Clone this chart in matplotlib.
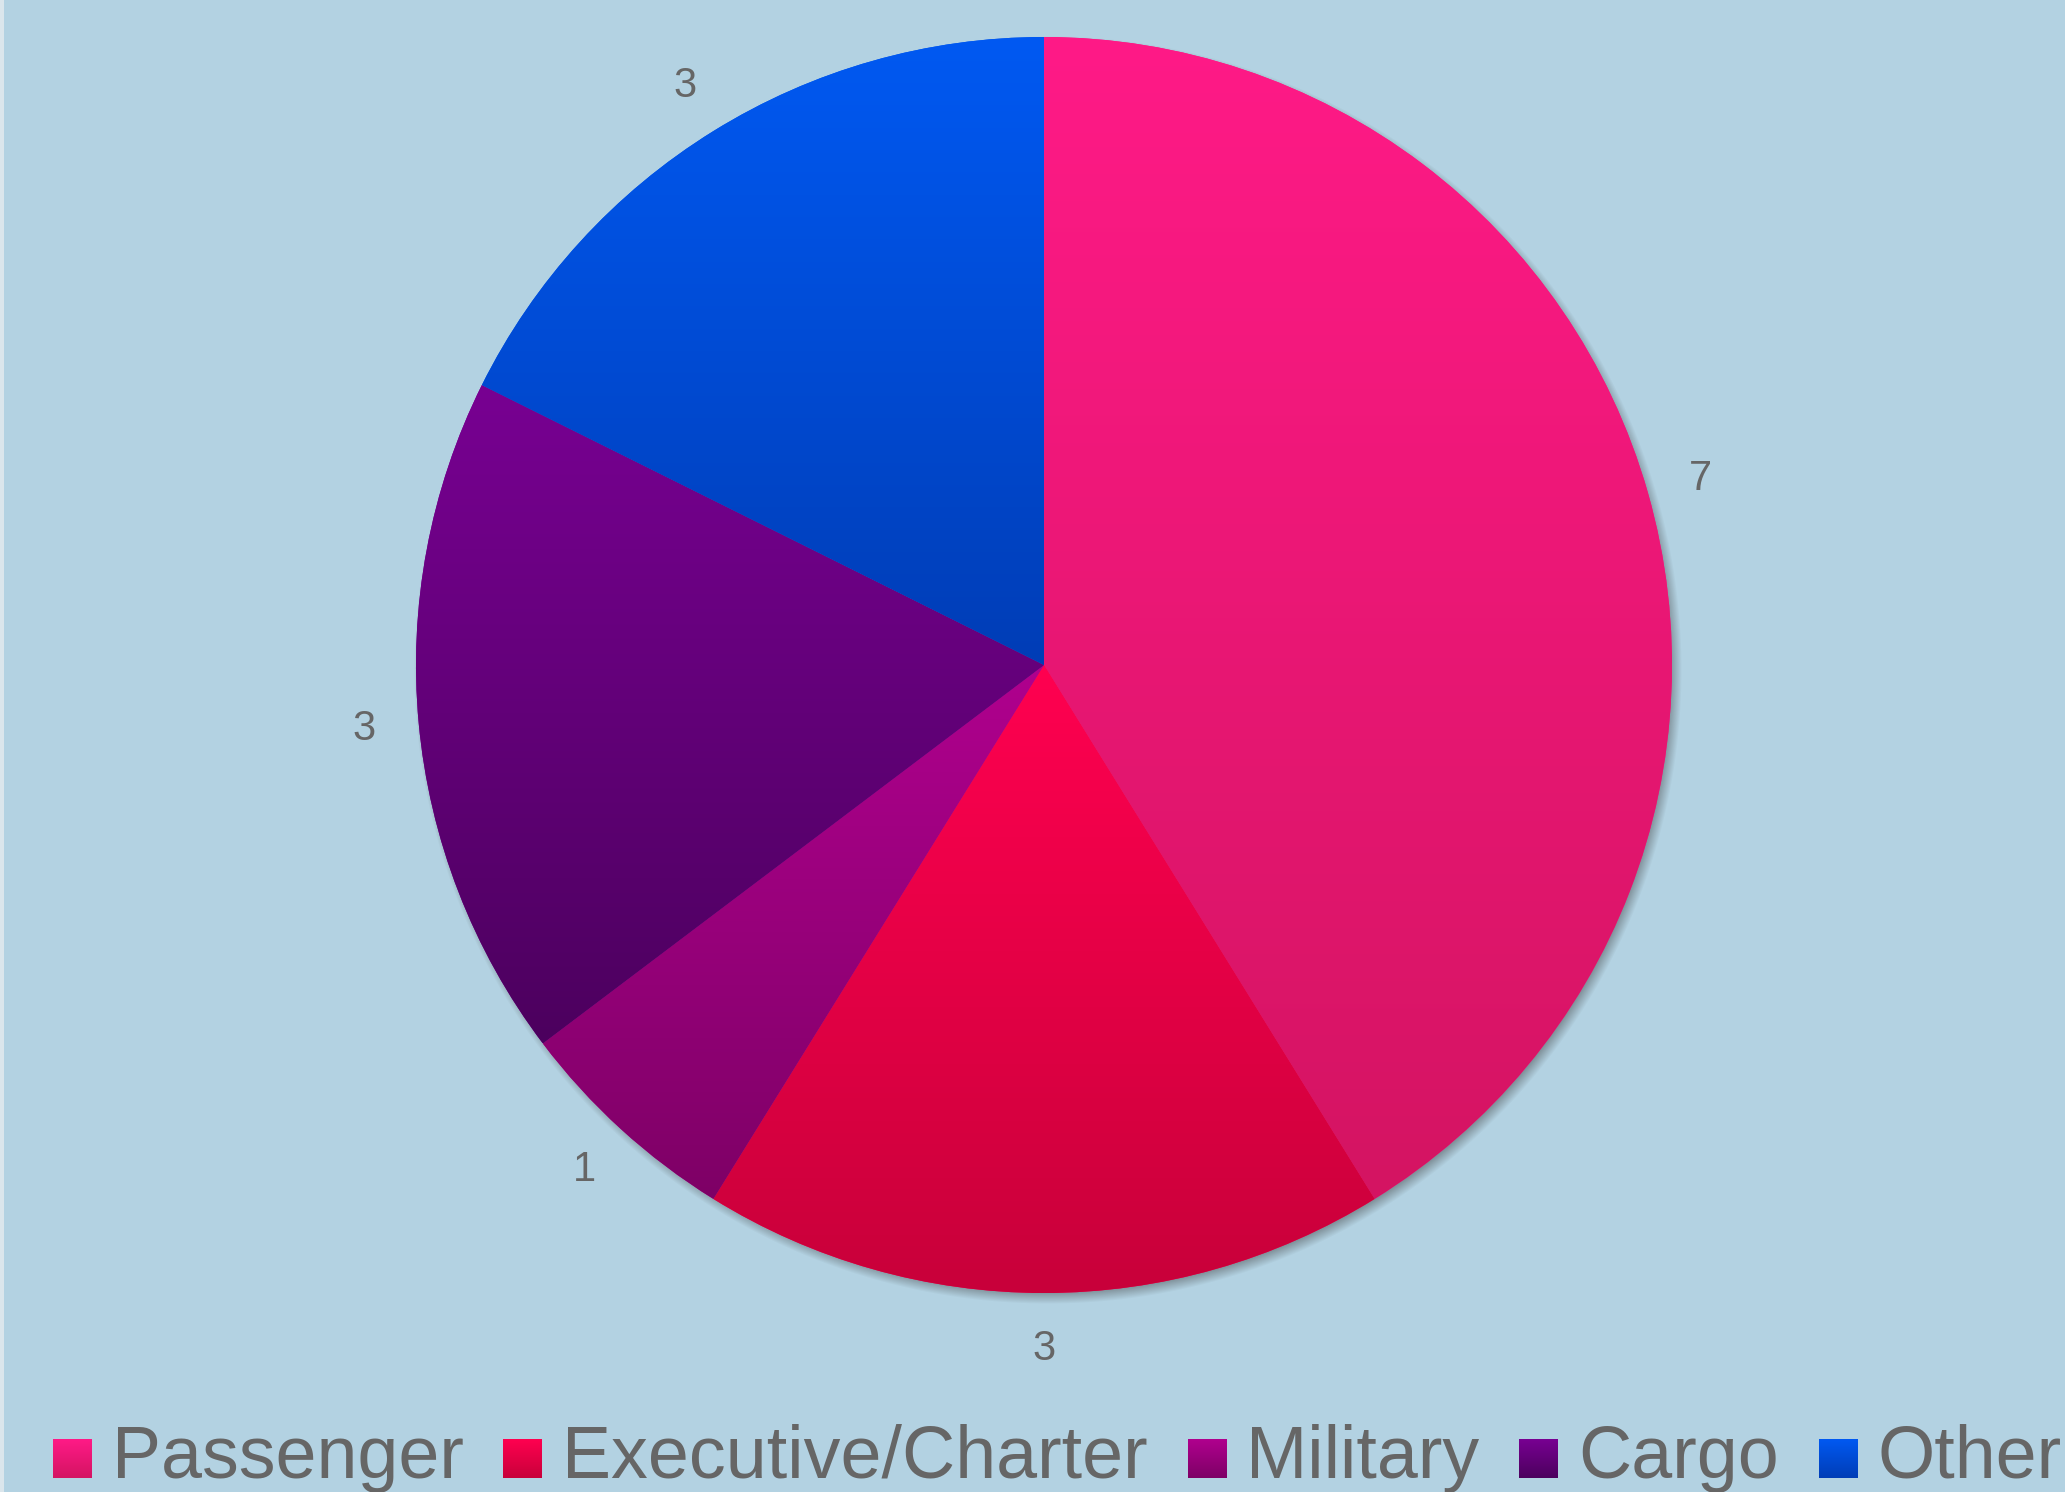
import numpy as np
import matplotlib
matplotlib.use("Agg")
import matplotlib.pyplot as plt
from matplotlib.colors import to_rgb
from matplotlib.patches import Rectangle

# Aircraft categories and counts
categories = ["Passenger", "Executive/Charter", "Military", "Cargo", "Other"]
counts = [7, 3, 1, 3, 3]
# (top, bottom) colours of each slice's vertical gradient
grad_top = ["#ff1a87", "#ff0050", "#b0008e", "#780092", "#0059f2"]
grad_bottom = ["#d41462", "#c8003a", "#7e0066", "#4c005e", "#003db6"]

W, H = 2065, 1492
BG = "#b3d2e2"
TEXT = "#666666"
FONT = "Liberation Sans"

fig = plt.figure(figsize=(W / 100, H / 100), dpi=100)
fig.patch.set_facecolor(BG)
ax = fig.add_axes([0, 0, 1, 1])
ax.set_facecolor(BG)

cx, cy, R = 1044, H - 665, 628


def gradient(top, bottom, n=256):
    t = np.linspace(0, 1, n)[:, None, None]
    a = np.array(to_rgb(top))[None, None, :]
    b = np.array(to_rgb(bottom))[None, None, :]
    return a * (1 - t) + b * t


# soft drop shadow beneath the pie
yy, xx = np.mgrid[cy - R - 30:cy + R + 30, cx - R - 30:cx + R + 30]
d = np.hypot(xx + 0.5 - (cx + 4), yy + 0.5 - (cy - 5))
alpha = 0.45 * np.clip(1 - (d - (R - 6)) / 12, 0, 1)
shadow = np.zeros(d.shape + (4,))
shadow[..., :3] = 0.25
shadow[..., 3] = alpha
ax.imshow(shadow, extent=(cx - R - 30, cx + R + 30, cy - R - 30, cy + R + 30),
          origin="lower", zorder=0.5, aspect="auto", interpolation="bilinear")

wedges, _ = ax.pie(counts, startangle=90, counterclock=False, center=(cx, cy),
                   radius=R, colors=grad_top,
                   wedgeprops=dict(linewidth=0))

for w, top, bot, val in zip(wedges, grad_top, grad_bottom, counts):
    w.set_zorder(1)
    verts = w.get_patch_transform().transform(w.get_path().vertices)
    x0, x1 = verts[:, 0].min(), verts[:, 0].max()
    y0, y1 = verts[:, 1].min(), verts[:, 1].max()
    im = ax.imshow(gradient(top, bot), extent=(x0, x1, y0, y1), origin="upper",
                   aspect="auto", interpolation="bilinear", zorder=2)
    im.set_clip_path(w)
    # value label outside the slice
    mid = np.deg2rad((w.theta1 + w.theta2) / 2)
    r_lab = R * 1.087
    ax.text(cx + r_lab * np.cos(mid), cy + r_lab * np.sin(mid) - 1, str(val),
            ha="center", va="center", fontsize=30, color=TEXT, family=FONT,
            zorder=5)

# legend along the bottom edge
fig.canvas.draw()
renderer = fig.canvas.get_renderer()
x = 53
base = 14
sq = 39
for name, top, bot in zip(categories, grad_top, grad_bottom):
    ax.imshow(gradient(top, bot), extent=(x, x + sq, base, base + sq),
              origin="upper", aspect="auto", interpolation="bilinear", zorder=5)
    t = ax.text(x + 59, base, name, ha="left", va="baseline", fontsize=53,
                color=TEXT, family=FONT, zorder=5)
    wpx = t.get_window_extent(renderer).width
    x = x + 59 + wpx + 39.5

# light strip along the left border
ax.add_patch(Rectangle((0, 0), 4, H, facecolor="#dbe6ec", edgecolor="none",
                       zorder=6))

ax.set_xlim(0, W)
ax.set_ylim(0, H)
ax.axis("off")

fig.savefig("out.png", dpi=100, facecolor=BG)
